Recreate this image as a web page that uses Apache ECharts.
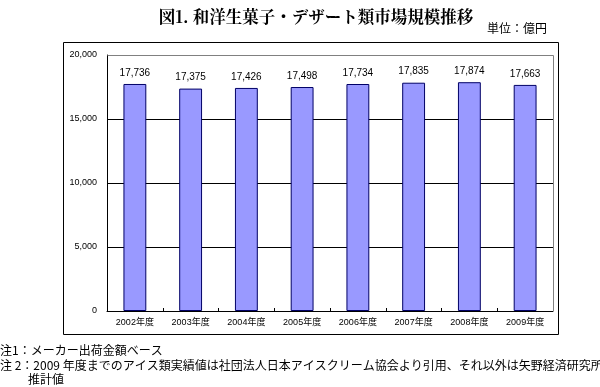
<!DOCTYPE html>
<html><head><meta charset="utf-8">
<script src="https://cdn.jsdelivr.net/npm/echarts@6/dist/echarts.min.js"></script>
<style>html,body{margin:0;padding:0;background:#fff;}#c{width:600px;height:387px;}</style>
</head><body><div id="c"></div>
<script>
const categories = ['2002年度','2003年度','2004年度','2005年度','2006年度','2007年度','2008年度','2009年度'];
const values = [17736, 17375, 17426, 17498, 17734, 17835, 17874, 17663];
const yTicks = [0, 5000, 10000, 15000, 20000];
const titleText = '図1. 和洋生菓子・デザート類市場規模推移';
const unitText = '単位：億円';
const note1 = '注1：メーカー出荷金額ベース';
const note2 = '注 2：2009 年度までのアイス類実績値は社団法人日本アイスクリーム協会より引用、それ以外は矢野経済研究所';
const note3 = '推計値';

const fmt = v => v.toLocaleString('en-US');
const chart = echarts.init(document.getElementById('c'));
const font = '"Liberation Sans", Arial, "Noto Sans CJK JP", sans-serif';
const jp = '"Noto Sans CJK JP",sans-serif';
chart.setOption({
  animation: false,
  backgroundColor: '#fff',
  title: {
    text: titleText, left: 311, textAlign: 'center', top: 3,
    textStyle: {fontFamily: '"Noto Serif CJK JP","Noto Sans CJK JP",serif', fontSize: 16.5, fontWeight: 'bold', color: '#000'}
  },
  grid: {left: 107, right: 47, top: 55, bottom: 76},
  xAxis: {
    type: 'category', data: categories,
    axisLine: {lineStyle: {color: '#000', width: 1}},
    axisTick: {show: true, length: 3, inside: true, lineStyle: {color: '#000'}},
    axisLabel: {fontSize: 9, color: '#000', margin: 7, fontFamily: '"Liberation Sans","Noto Sans CJK JP",sans-serif'}
  },
  yAxis: {
    type: 'value', min: yTicks[0], max: yTicks[yTicks.length-1], interval: 5000,
    axisLine: {show: true, lineStyle: {color: '#000'}},
    axisTick: {show: false},
    splitLine: {lineStyle: {color: '#000', width: 1}},
    axisLabel: {fontSize: 9, color: '#000', margin: 10, formatter: v => fmt(v), fontFamily: font}
  },
  series: [{
    type: 'bar', data: values, barWidth: '41%',
    itemStyle: {color: '#9999FF', borderColor: '#000066', borderWidth: 1},
    label: {show: true, position: 'top', distance: 6, fontSize: 10, color: '#000', formatter: p => fmt(p.value), fontFamily: font}
  }],
  graphic: [
    {type: 'rect', shape: {x: 63.5, y: 42.5, width: 495, height: 292}, style: {fill: 'none', stroke: '#000', lineWidth: 1}, z: -1},
    {type: 'polyline', shape: {points: [[107.5, 55.5], [553.5, 55.5], [553.5, 311]]}, style: {fill: 'none', stroke: '#808080', lineWidth: 1}, z: 1},
    {type: 'text', right: 53, top: 22, style: {text: unitText, fontSize: 12, fill: '#000', fontFamily: jp}},
    {type: 'text', left: 0, top: 344, style: {text: note1, fontSize: 12, fill: '#000', fontFamily: jp}},
    {type: 'text', left: 0, top: 359, style: {text: note2, fontSize: 12, fill: '#000', fontFamily: jp}},
    {type: 'text', left: 28, top: 373, style: {text: note3, fontSize: 12, fill: '#000', fontFamily: jp}}
  ]
});
</script></body></html>
